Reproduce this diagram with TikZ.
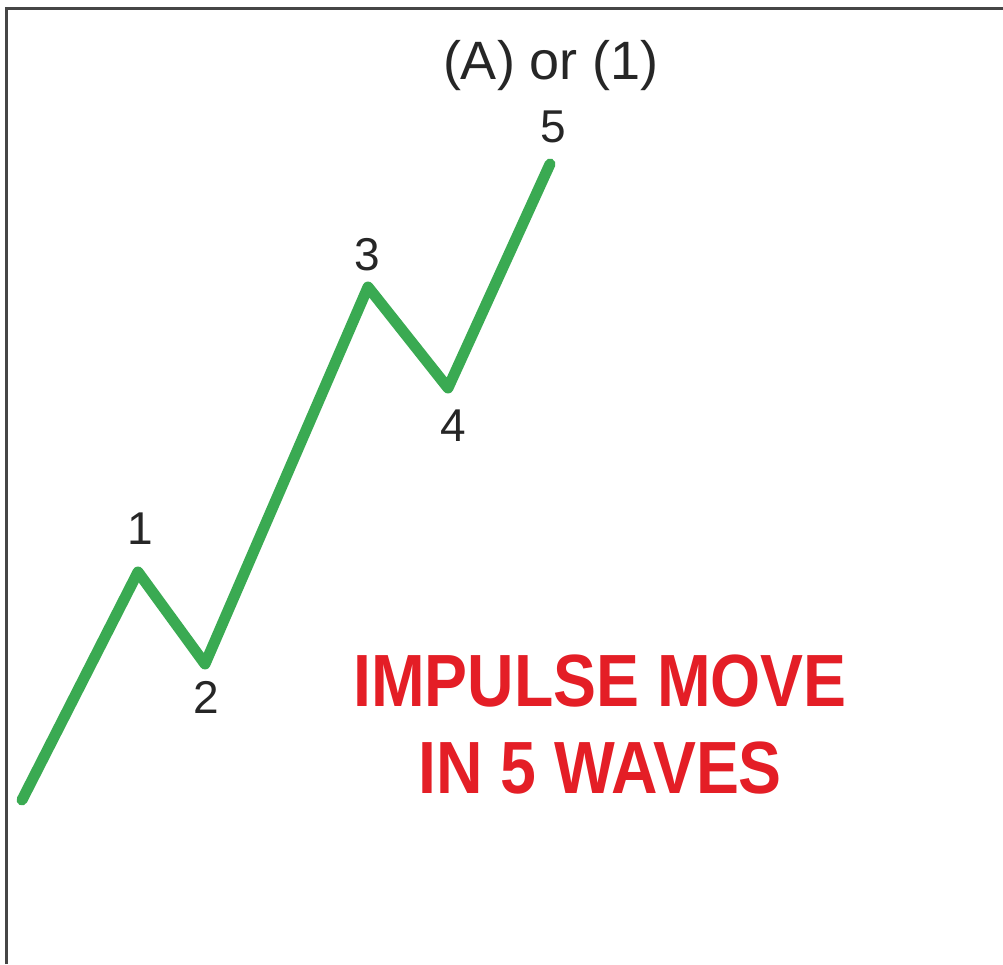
\documentclass[tikz,border=0pt]{standalone}
\usepackage{fontspec}
\setmainfont{Liberation Sans}
\definecolor{wavegreen}{RGB}{58,170,82}
\definecolor{titlered}{RGB}{228,30,38}
\definecolor{frame}{RGB}{70,70,70}
\tikzset{
  wave/.style={draw=wavegreen, line width=11pt, line join=round, line cap=round},
  lbl/.style={inner sep=0pt, text=black!85, font=\fontsize{46}{50}\selectfont},
  ttl/.style={inner sep=0pt, text=black!85, font=\fontsize{54}{58}\selectfont},
  big/.style={inner sep=0pt, text=titlered, align=center, font=\bfseries\fontsize{74}{87}\selectfont},
  frameline/.style={draw=frame, line width=3pt}
}
\begin{document}
\begin{tikzpicture}[x=1pt,y=-1pt]
\useasboundingbox (0,0) rectangle (1003,964);
\fill[white] (0,0) rectangle (1003,964);
\coordinate (fa) at (6,964);
\coordinate (fb) at (6,8);
\coordinate (fc) at (1003,8);
\draw[frameline] (fa) -- (fb) -- (fc);
\coordinate (p0) at (22,800);
\coordinate (p1) at (138,572);
\coordinate (p2) at (205,664);
\coordinate (p3) at (368,287);
\coordinate (p4) at (448,388);
\coordinate (p5) at (550,164);
\draw[wave] (p0) -- (p1) -- (p2) -- (p3) -- (p4) -- (p5);
\node[lbl] (l1) at (140,529) {1};
\node[lbl] (l2) at (206,697) {2};
\node[lbl] (l3) at (367,255) {3};
\node[lbl] (l4) at (453,426) {4};
\node[lbl] (l5) at (553,127) {5};
\node[ttl] (title) at (551,66) {(A) or (1)};
\node[big] (impulse) at (600,725) {\scalebox{0.87}[1]{IMPULSE MOVE}\\\scalebox{0.87}[1]{IN 5 WAVES}};
\end{tikzpicture}
\end{document}
